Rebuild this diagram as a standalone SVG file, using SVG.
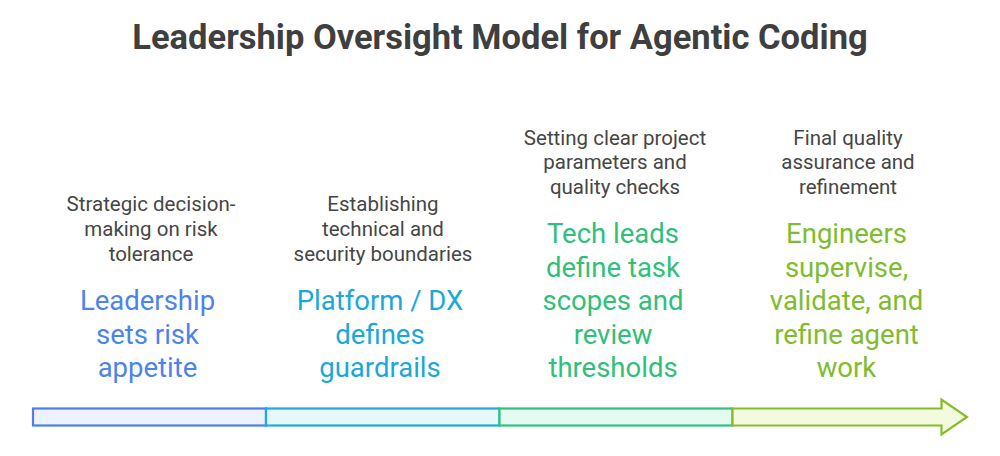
<svg xmlns="http://www.w3.org/2000/svg" width="1000" height="456" viewBox="0 0 1000 456">
<style>
.title{font-family:Roboto,"Liberation Sans",sans-serif;font-weight:700;font-size:34.5px;fill:#3f3f3f;text-anchor:middle}
.desc{font-family:Roboto,"Liberation Sans",sans-serif;font-size:20.5px;fill:#464646;text-anchor:middle}
.main{font-family:Roboto,"Liberation Sans",sans-serif;font-size:27.5px;text-anchor:middle}
.seg{stroke-width:2.2}
</style>
<rect width="1000" height="456" fill="#ffffff"/>
<text class="title" x="500" y="48.5">Leadership Oversight Model for Agentic Coding</text>
<g id="connectors">
<rect class="seg" x="33" y="408.5" width="233" height="17" fill="#edf2fd" stroke="#4a80e8"/>
<rect class="seg" x="266" y="408.5" width="233.5" height="17" fill="#e7f8fd" stroke="#1eaadb"/>
<rect class="seg" x="499.5" y="408.5" width="233" height="17" fill="#e5fbf1" stroke="#2ec47e"/>
<path class="seg" d="M732.5,408.5 H941.5 V399.5 L967,417 L941.5,434.5 V425.5 H732.5 Z" fill="#f2fbdd" stroke="#86bc2a" stroke-linejoin="miter"/>
</g>
<g id="node-leadership">
<text class="desc" x="151" y="210.5">Strategic decision-</text>
<text class="desc" x="151" y="235.5">making on risk</text>
<text class="desc" x="151" y="260.5">tolerance</text>
<text class="main" x="147.5" y="310" fill="#4c84ea">Leadership</text>
<text class="main" x="147.5" y="343.5" fill="#4c84ea">sets risk</text>
<text class="main" x="147.5" y="377" fill="#4c84ea">appetite</text>
</g>
<g id="node-platform">
<text class="desc" x="383" y="210.5">Establishing</text>
<text class="desc" x="383" y="235.5">technical and</text>
<text class="desc" x="383" y="260.5">security boundaries</text>
<text class="main" x="380" y="310" fill="#1ba8d9">Platform / DX</text>
<text class="main" x="380" y="343.5" fill="#1ba8d9">defines</text>
<text class="main" x="380" y="377" fill="#1ba8d9">guardrails</text>
</g>
<g id="node-techleads">
<text class="desc" x="615" y="144.5">Setting clear project</text>
<text class="desc" x="615" y="169">parameters and</text>
<text class="desc" x="615" y="193.5">quality checks</text>
<text class="main" x="613" y="243" fill="#2fc07b">Tech leads</text>
<text class="main" x="613" y="276.5" fill="#2fc07b">define task</text>
<text class="main" x="613" y="310" fill="#2fc07b">scopes and</text>
<text class="main" x="613" y="343.5" fill="#2fc07b">review</text>
<text class="main" x="613" y="377" fill="#2fc07b">thresholds</text>
</g>
<g id="node-engineers">
<text class="desc" x="848" y="144.5">Final quality</text>
<text class="desc" x="848" y="169">assurance and</text>
<text class="desc" x="848" y="193.5">refinement</text>
<text class="main" x="846.5" y="243" fill="#80bc2e">Engineers</text>
<text class="main" x="846.5" y="276.5" fill="#80bc2e">supervise,</text>
<text class="main" x="846.5" y="310" fill="#80bc2e">validate, and</text>
<text class="main" x="846.5" y="343.5" fill="#80bc2e">refine agent</text>
<text class="main" x="846.5" y="377" fill="#80bc2e">work</text>
</g>
</svg>
